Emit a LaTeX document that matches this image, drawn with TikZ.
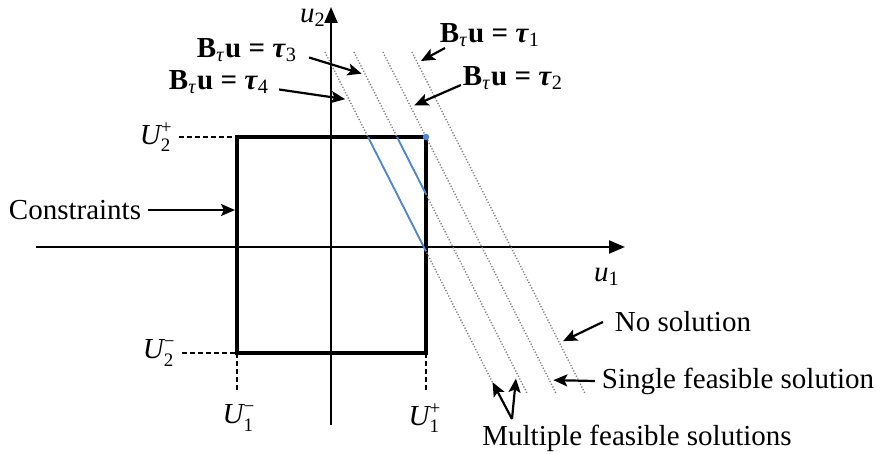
\documentclass[tikz,border=0pt]{standalone}
\usepackage{fontspec}
\setmainfont{Liberation Serif}
\usetikzlibrary{arrows.meta}

\definecolor{solblue}{RGB}{74,134,218}

% labels set in the text font
\newcommand{\scr}[1]{\mbox{\fontsize{9.5}{10}\selectfont #1}}
\newcommand{\bound}[2]{$\mbox{\itshape U}_{\scr{#1}}^{\scr{#2}}$}
\newcommand{\taueq}[1]{\textbf{B}\textsubscript{\textit{τ}}\textbf{u = \textit{τ}}\textsubscript{#1}}

\begin{document}
\begin{tikzpicture}[x=25pt, y=25pt, every node/.style={font=\fontsize{14.5}{17}\selectfont},
    axis/.style={line width=1pt, -{Triangle[length=8pt,width=6.5pt]}},
    bound/.style={line width=2.2pt},
    guide/.style={dash pattern=on 2.5pt off 1.5pt, line width=0.7pt},
    hyper/.style={dash pattern=on 0.6pt off 0.9pt, gray, line width=0.7pt},
    feas/.style={solblue, line width=0.9pt},
    pointer/.style={-{Stealth[length=7pt,width=6pt,inset=1.5pt]}, line width=1.1pt}]

    \useasboundingbox (-6.62,-4.14) rectangle (10.9,4.94);

    % axes
    \coordinate (xl) at (-5.9,0);
    \coordinate (xr) at (5.88,0);
    \coordinate (yb) at (0,-3.56);
    \coordinate (yt) at (0,4.8);
    \draw[axis] (xl) -- (xr);
    \draw[axis] (yb) -- (yt);
    \node (u1) at (5.52,-0.6) {\textit{u}\textsubscript{1}};
    \node (u2) at (-0.36,4.58) {\textit{u}\textsubscript{2}};

    % constraint box
    \coordinate (sw) at (-1.88,-2.12);
    \coordinate (ne) at (1.9,2.2);
    \coordinate (nw) at (-1.88,2.2);
    \coordinate (se) at (1.9,-2.12);
    \draw[bound] (sw) rectangle (ne);

    % bounds
    \node[anchor=east, inner sep=1pt] (U2p) at (-3.12,2.2) {\bound{2}{+}};
    \node[anchor=east, inner sep=1pt] (U2m) at (-3.06,-2.12) {\bound{2}{−}};
    \node (U1m) at (-1.84,-3.42) {\bound{1}{−}};
    \node (U1p) at (1.88,-3.42) {\bound{1}{+}};
    \draw[guide] (U2p.east) ++(0.08,0) -- (nw);
    \draw[guide] (U2m.east) ++(0.08,0) -- (sw);
    \draw[guide] (sw) -- (-1.88,-2.86);
    \draw[guide] (se) -- (1.9,-2.9);

    % lines B u = tau
    \draw[hyper] (-0.122,3.9) -- (3.338,-2.92)
        coordinate[pos=0.14] (onA) coordinate[pos=0.953] (lowA);
    \draw[hyper] (0.458,3.9) -- (3.918,-2.92)
        coordinate[pos=0.067] (onB) coordinate[pos=0.94] (lowB);
    \draw[hyper] (1.038,3.9) -- (4.498,-2.92)
        coordinate[pos=0.161] (onC) coordinate[pos=0.962] (lowC);
    \draw[hyper] (1.618,3.9) -- (5.078,-2.92)
        coordinate[pos=0.032] (onD) coordinate[pos=0.853] (lowD);

    % feasible segments
    \draw[feas] (0.74,2.2) -- (1.9,-0.087);
    \draw[feas] (1.32,2.2) -- (1.9,1.057);
    \fill[solblue] (ne) circle (0.065);

    % labels
    \node (tau3) at (-1.68,3.94) {\taueq{3}};
    \node (tau4) at (-2.24,3.3) {\taueq{4}};
    \node (tau1) at (3.18,4.24) {\taueq{1}};
    \node (tau2) at (3.64,3.38) {\taueq{2}};
    \draw[pointer, shorten >=2pt] (tau3.east) ++(0.1,-0.15) -- (onB);
    \draw[pointer, shorten >=2pt] (tau4.east) ++(0.06,-0.15) -- (onA);
    \draw[pointer, shorten >=2pt] (2.28,3.98) -- (onD);
    \draw[pointer, shorten >=2pt] (tau2.west) ++(0.1,-0.14) -- (onC);

    \node (cons) at (-5.12,0.74) {Constraints};
    \draw[pointer] (cons.east) -- (-1.92,0.74);

    \node (nosol) at (7.04,-1.5) {No solution};
    \node (single) at (8.14,-2.68) {Single feasible solution};
    \node (multi) at (6.12,-3.82) {Multiple feasible solutions};
    \coordinate (mroot) at (3.62,-3.44);
    \draw[pointer, shorten >=2pt] (nosol.west) ++(-0.1,0) -- (lowD);
    \draw[pointer, shorten >=2pt] (single.west) -- (lowC);
    \draw[pointer, shorten >=3pt] (mroot) -- (lowA);
    \draw[pointer, shorten >=3pt] (mroot) -- (lowB);

\end{tikzpicture}
\end{document}
